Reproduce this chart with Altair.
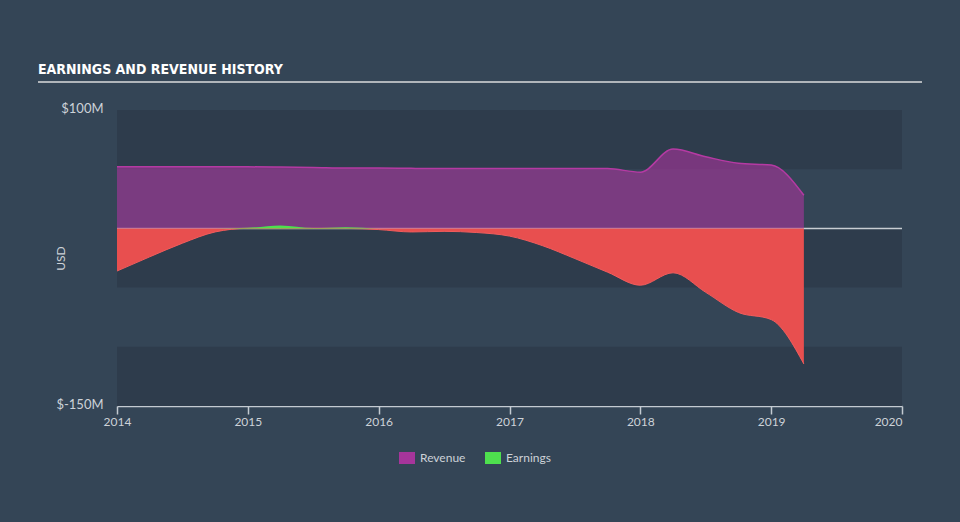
import altair as alt
import pandas as pd

TITLE = "EARNINGS AND REVENUE HISTORY"

years = [2014.0, 2014.25, 2014.5, 2014.75, 2015.0, 2015.25, 2015.5, 2015.75,
         2016.0, 2016.25, 2016.5, 2016.75, 2017.0, 2017.25, 2017.5, 2017.75,
         2018.0, 2018.25, 2018.5, 2018.75, 2019.0, 2019.25]
revenue = [52, 52, 52, 52, 52, 51.8, 51.5, 51, 51, 50.7, 50.5, 50.5,
           50.5, 50.6, 50.6, 50.5, 47.5, 67, 60.5, 55, 53.5, 28]
earnings = [-36, -24, -12.5, -3, 0.5, 2.5, 0.3, 1, -1, -3, -2.5, -3.5,
            -6.5, -14.5, -25.5, -37, -48, -37.5, -54, -71, -77, -114.5]

series_names = ["Revenue", "Earnings"]
series_colors = ["#a6359b", "#4ee04e"]
band_lo = [50, -50, -150]
band_hi = [100, 0, -100]
x_ticks = [2014, 2015, 2016, 2017, 2018, 2019, 2020]
y_ticks = [100, -150]

W, H = 785, 296
BG = "#344556"
BAND = "#2e3c4c"
TXT = "#cdd2d8"
FONT = "Lato"

df = pd.DataFrame({"year": years, "revenue": revenue, "earnings": earnings})
bands = pd.DataFrame({"lo": band_lo, "hi": band_hi})

xs = alt.Scale(domain=[2014, 2020], nice=False, zero=False)
ys = alt.Scale(domain=[-150, 100], nice=False, zero=False)
cs = alt.Scale(domain=series_names, range=series_colors)

x_axis = alt.Axis(
    values=x_ticks, format="d", title=None, grid=False,
    domainColor="#c3cad1", domainWidth=1.5, tickColor="#c3cad1", tickSize=8,
    tickWidth=1.5, labelColor=TXT, labelFont=FONT, labelFontSize=12,
    labelPadding=2,
    labelAlign={"condition": {"test": "datum.value >= 2020", "value": "right"},
                "value": "center"},
)
y_axis = alt.Axis(
    values=y_ticks, labelExpr="'$' + datum.value + 'M'", domain=False,
    ticks=False, grid=False, labelColor=TXT, labelFont=FONT, labelFontSize=13,
    labelPadding=14, labelOffset=-2, title="USD", titleColor=TXT, titleFont=FONT,
    titleFontSize=12, titleFontWeight="normal", titleX=-57, titleY=148,
    titleAngle=270, titleAlign="center", titleBaseline="middle",
)
legend = alt.Legend(
    title=None, orient="none", legendX=282, legendY=340, direction="horizontal",
    symbolType="M-1,-0.75H1V0.75H-1Z", symbolSize=256, symbolOpacity=1,
    symbolStrokeWidth=0, labelColor=TXT, labelFont=FONT, labelFontSize=12,
    labelOffset=5, columnPadding=19, padding=0,
)

X = alt.X("year:Q", scale=xs, axis=x_axis)

band_layer = alt.Chart(bands).mark_rect(color=BAND).encode(
    x=alt.value(0), x2=alt.value(W),
    y=alt.Y("hi:Q", scale=ys, axis=y_axis), y2="lo:Q",
)

zero_layer = alt.Chart(pd.DataFrame({"z": [0]})).mark_rule(
    color="#c8cdd2", strokeWidth=1.5
).encode(x=alt.value(0), x2=alt.value(W), y=alt.Y("z:Q", scale=ys, axis=y_axis))

base = alt.Chart(df)

rev_area = base.transform_calculate(series="'Revenue'").mark_area(
    interpolate="monotone", fillOpacity=0.62, opacity=1
).encode(
    x=X,
    y=alt.Y("revenue:Q", scale=ys, axis=y_axis),
    color=alt.Color("series:N", scale=cs, legend=legend),
)
rev_line = base.mark_line(interpolate="monotone", color="#b53aa3", strokeWidth=1.5).encode(
    x=X,
    y=alt.Y("revenue:Q", scale=ys, axis=y_axis),
)

neg_area = base.transform_calculate(neg="min(datum.earnings, 0)").mark_area(
    interpolate="monotone", color="#e84f4f", opacity=1,
    line={"color": "#f25c5c", "strokeWidth": 1}
).encode(
    x=X,
    y=alt.Y("neg:Q", scale=ys, axis=y_axis),
)
pos_area = base.transform_calculate(
    pos="max(datum.earnings, 0)", series="'Earnings'"
).mark_area(interpolate="monotone", opacity=1).encode(
    x=X,
    y=alt.Y("pos:Q", scale=ys, axis=y_axis),
    color=alt.Color("series:N", scale=cs, legend=legend),
)

title_text = alt.Chart(pd.DataFrame({"t": [TITLE]})).mark_text(
    align="left", baseline="alphabetic",
    font="Liberation Sans Narrow, DejaVu Sans Condensed, sans-serif",
    fontWeight="bold", fontSize=14, color="#ffffff",
).encode(x=alt.value(-79), y=alt.value(-36), text="t:N")

title_rule = alt.Chart(pd.DataFrame({"r": [0]})).mark_rule(
    color="#b0b5ba", strokeWidth=2
).encode(x=alt.value(-79), x2=alt.value(805), y=alt.value(-28))

chart = alt.layer(
    band_layer, zero_layer, rev_area, rev_line, neg_area, pos_area,
    title_text, title_rule,
).properties(
    width=W, height=H,
    autosize=alt.AutoSizeParams(type="none"),
    padding={"left": 117, "top": 110, "right": 58, "bottom": 116},
).configure(background=BG).configure_view(stroke=None)

chart.save("out.html", embed_options={"renderer": "svg", "actions": False})
